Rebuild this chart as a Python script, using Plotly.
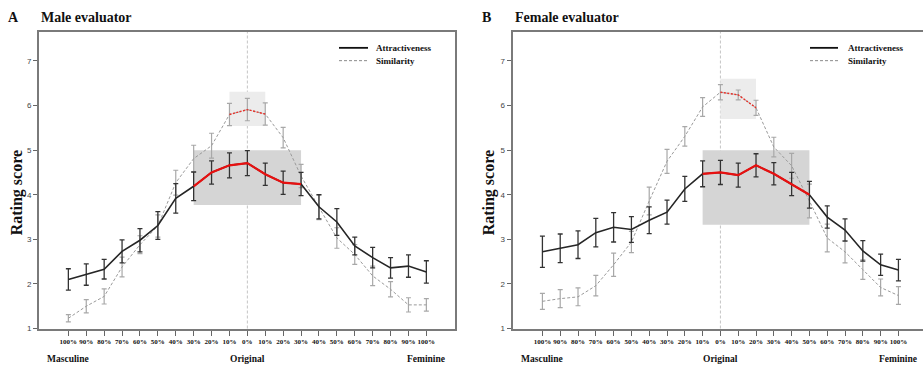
import plotly.graph_objects as go

W, H = 923, 371

tick_labels = ["100%", "90%", "80%", "70%", "60%", "50%", "40%", "30%", "20%", "10%", "0%",
               "10%", "20%", "30%", "40%", "50%", "60%", "70%", "80%", "90%", "100%"]
x_idx = list(range(len(tick_labels)))

# Panel A: male evaluator
a_attr = [2.10, 2.21, 2.33, 2.73, 2.98, 3.31, 3.92, 4.19, 4.50, 4.66, 4.71,
          4.46, 4.27, 4.24, 3.73, 3.39, 2.85, 2.59, 2.36, 2.40, 2.27]
a_attr_err = [0.24, 0.24, 0.22, 0.26, 0.26, 0.31, 0.33, 0.32, 0.26, 0.28, 0.28,
              0.25, 0.26, 0.26, 0.27, 0.30, 0.20, 0.23, 0.23, 0.25, 0.25]
a_sim = [1.23, 1.50, 1.72, 2.38, 2.88, 3.30, 4.27, 4.81, 5.10, 5.80, 5.91,
         5.81, 5.28, 4.42, 3.72, 3.03, 2.66, 2.18, 1.88, 1.53, 1.53]
a_sim_err = [0.08, 0.15, 0.17, 0.22, 0.20, 0.25, 0.28, 0.30, 0.28, 0.25, 0.25,
             0.25, 0.23, 0.26, 0.28, 0.23, 0.22, 0.22, 0.17, 0.16, 0.14]

# Panel B: female evaluator
b_attr = [2.72, 2.80, 2.88, 3.15, 3.27, 3.22, 3.43, 3.61, 4.13, 4.47, 4.50,
          4.44, 4.66, 4.47, 4.24, 4.00, 3.50, 3.21, 2.74, 2.43, 2.31]
b_attr_err = [0.35, 0.32, 0.31, 0.32, 0.33, 0.29, 0.30, 0.27, 0.28, 0.29, 0.27,
              0.27, 0.26, 0.25, 0.26, 0.30, 0.25, 0.25, 0.23, 0.24, 0.24]
b_sim = [1.61, 1.67, 1.71, 1.96, 2.43, 2.94, 3.86, 4.75, 5.31, 5.97, 6.30,
         6.24, 5.95, 5.07, 4.65, 3.86, 3.03, 2.72, 2.32, 1.92, 1.74]
b_sim_err = [0.18, 0.20, 0.20, 0.23, 0.26, 0.24, 0.31, 0.27, 0.22, 0.21, 0.17,
             0.11, 0.17, 0.22, 0.28, 0.38, 0.31, 0.25, 0.22, 0.19, 0.20]

# highlighted ranges (start index, end index) and shaded boxes (x0, x1, y0, y1)
a_attr_hi = (7, 13)
a_sim_hi = (9, 11)
b_attr_hi = (9, 15)
b_sim_hi = (10, 12)
a_box_big = (7, 13, 3.77, 5.0)
a_box_small = (9, 11, 5.54, 6.31)
b_box_big = (9, 15, 3.33, 5.0)
b_box_small = (10, 12, 5.70, 6.60)

SERIF = "Liberation Serif"
SANS = "Liberation Sans"
FINE_DASH = "3px,2px"

fig = go.Figure()


def add_panel(xa, ya, attr, attr_err, sim, sim_err, attr_hi, sim_hi):
    fig.add_trace(go.Scatter(
        x=x_idx, y=sim, mode="lines", xaxis=xa, yaxis=ya,
        line=dict(color="#9a9a9a", width=1, dash=FINE_DASH),
        error_y=dict(type="data", array=sim_err, visible=True, color="#a8a8a8",
                     thickness=1.2, width=2.5),
        showlegend=False, hoverinfo="skip"))
    fig.add_trace(go.Scatter(
        x=x_idx, y=attr, mode="lines", xaxis=xa, yaxis=ya,
        line=dict(color="#262626", width=1.6),
        error_y=dict(type="data", array=attr_err, visible=True, color="#333333",
                     thickness=1.3, width=2.5),
        showlegend=False, hoverinfo="skip"))
    s0, s1 = sim_hi
    fig.add_trace(go.Scatter(
        x=x_idx[s0:s1 + 1], y=sim[s0:s1 + 1], mode="lines", xaxis=xa, yaxis=ya,
        line=dict(color="#e8322a", width=1.4, dash="2px,1.5px"),
        showlegend=False, hoverinfo="skip"))
    a0, a1 = attr_hi
    fig.add_trace(go.Scatter(
        x=x_idx[a0:a1 + 1], y=attr[a0:a1 + 1], mode="lines", xaxis=xa, yaxis=ya,
        line=dict(color="#e81010", width=2.2),
        showlegend=False, hoverinfo="skip"))


add_panel("x", "y", a_attr, a_attr_err, a_sim, a_sim_err, a_attr_hi, a_sim_hi)
add_panel("x2", "y2", b_attr, b_attr_err, b_sim, b_sim_err, b_attr_hi, b_sim_hi)

shapes = []
for xr, yr, big, small in (("x", "y", a_box_big, a_box_small),
                           ("x2", "y2", b_box_big, b_box_small)):
    shapes.append(dict(type="rect", xref=xr, yref=yr, x0=big[0], x1=big[1], y0=big[2], y1=big[3],
                       fillcolor="#d5d5d5", line=dict(width=0), layer="below"))
    shapes.append(dict(type="rect", xref=xr, yref=yr, x0=small[0], x1=small[1], y0=small[2], y1=small[3],
                       fillcolor="#ececec", line=dict(width=0), layer="below"))
    shapes.append(dict(type="line", xref=xr, yref=yr + " domain", x0=10, x1=10, y0=0, y1=1,
                       line=dict(color="#c4c4c4", width=1, dash=FINE_DASH), layer="below"))


def px_x(p):
    return p / W


def px_y(p):
    return 1 - p / H


# legends (drawn manually, one per panel)
annotations = []
for lx0, lx1, tx in ((339, 368, 374), (810, 838, 846)):
    shapes.append(dict(type="line", xref="paper", yref="paper", x0=px_x(lx0), x1=px_x(lx1),
                       y0=px_y(48.5), y1=px_y(48.5), line=dict(color="#111111", width=1.8)))
    shapes.append(dict(type="line", xref="paper", yref="paper", x0=px_x(lx0), x1=px_x(lx1),
                       y0=px_y(61.5), y1=px_y(61.5), line=dict(color="#8a8a8a", width=1, dash=FINE_DASH)))
    annotations.append(dict(x=px_x(tx), y=px_y(48.5), xref="paper", yref="paper", text="<b>Attractiveness</b>",
                            showarrow=False, xanchor="left", yanchor="middle",
                            font=dict(family=SERIF, size=9, color="#111")))
    annotations.append(dict(x=px_x(tx), y=px_y(61.5), xref="paper", yref="paper", text="<b>Similarity</b>",
                            showarrow=False, xanchor="left", yanchor="middle",
                            font=dict(family=SERIF, size=9, color="#111")))

# panel titles
for letter, lx, title, tx in (("A", 13.5, "Male evaluator", 38.5), ("B", 486, "Female evaluator", 512.5)):
    annotations.append(dict(x=px_x(lx), y=px_y(17.5), xref="paper", yref="paper", text="<b>%s</b>" % letter,
                            showarrow=False, xanchor="center", yanchor="middle",
                            font=dict(family=SERIF, size=14, color="#111")))
    annotations.append(dict(x=px_x(tx), y=px_y(17.5), xref="paper", yref="paper", text="<b>%s</b>" % title,
                            showarrow=False, xanchor="left", yanchor="middle",
                            font=dict(family=SERIF, size=14, color="#111")))

# y-axis titles
for yx in (17, 489):
    annotations.append(dict(x=px_x(yx), y=px_y(196), xref="paper", yref="paper", text="<b>Rating score</b>",
                            showarrow=False, xanchor="center", yanchor="middle", textangle=-90,
                            font=dict(family=SERIF, size=16, color="#111")))

# direction labels under the first, middle and last tick of each panel
for xr in ("x", "x2"):
    for xv, txt in zip((0, 10, 20), ("Masculine", "Original", "Feminine")):
        annotations.append(dict(x=xv, y=px_y(364), xref=xr, yref="paper", text="<b>%s</b>" % txt,
                                showarrow=False, xanchor="center", yanchor="middle",
                                font=dict(family=SERIF, size=9.5, color="#111")))

y_dom = [px_y(333), px_y(32)]
common_x = dict(tickmode="array", tickvals=x_idx, ticktext=["<b>%s</b>" % t for t in tick_labels],
                tickangle=0,
                tickfont=dict(family=SERIF, size=7, color="#111"),
                ticks="outside", ticklen=5, tickcolor="#666", tickwidth=1.2,
                showline=True, linecolor="#7a7a7a", linewidth=2,
                showgrid=False, zeroline=False, fixedrange=True)
common_y = dict(range=[1, 7.66], tickmode="array", tickvals=[1, 2, 3, 4, 5, 6, 7],
                tickfont=dict(family=SANS, size=8, color="#444"),
                ticks="outside", ticklen=4, tickcolor="#666", tickwidth=1.2,
                showline=True, linecolor="#7a7a7a", linewidth=2,
                showgrid=False, zeroline=False, fixedrange=True)

fig.update_layout(
    width=W, height=H,
    margin=dict(l=0, r=0, t=0, b=0),
    paper_bgcolor="white", plot_bgcolor="white",
    xaxis=dict(domain=[px_x(39), px_x(455)], range=[-1.64, 21.6], mirror=True, anchor="y", **common_x),
    yaxis=dict(domain=y_dom, anchor="x", mirror=True, **common_y),
    xaxis2=dict(domain=[px_x(512.5), 1.0], range=[-1.68, 21.38], mirror=True, anchor="y2", **common_x),
    yaxis2=dict(domain=y_dom, anchor="x2", mirror=False, **common_y),
    shapes=shapes,
    annotations=annotations,
    showlegend=False,
)

fig.write_html("out.html")
